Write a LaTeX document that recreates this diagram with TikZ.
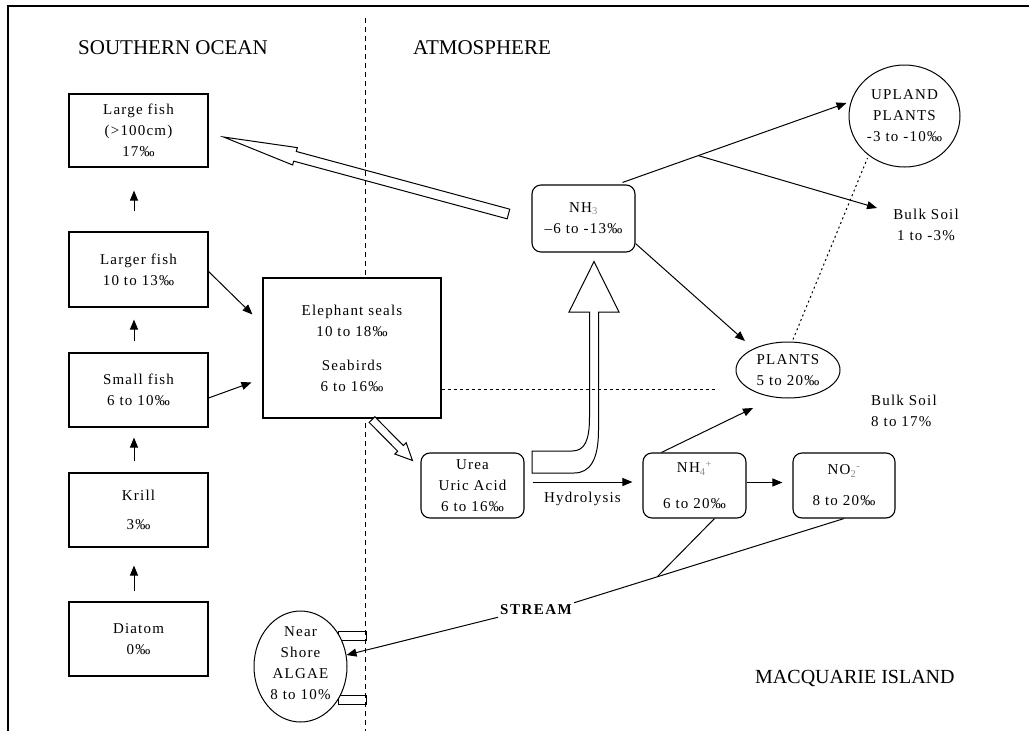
\documentclass[tikz,border=0pt]{standalone}
\usepackage{fontspec}
\setmainfont{Liberation Serif}
\newfontfamily\bodyf{Liberation Serif}[LetterSpace=8]
\usetikzlibrary{arrows.meta,calc,shapes.geometric}
\newcommand{\hollowarr}[6][]{%
  \coordinate (ha-a) at ($(#3)!#4!(#2)$);
  \draw[line width=1pt,#1] (#3) -- ($(ha-a)!#5!90:(#2)$) -- ($(ha-a)!#6!90:(#2)$)
    -- ($(#2)!#6!-90:(#3)$) -- ($(#2)!#6!90:(#3)$) -- ($(ha-a)!#6!-90:(#2)$)
    -- ($(ha-a)!#5!-90:(#2)$) -- cycle;}
\newcommand{\sub}[1]{\textsubscript{\textcolor{black!45}{#1}}}
\newcommand{\sups}[1]{\textsuperscript{\textcolor{black!45}{#1}}}
\begin{document}
\begin{tikzpicture}[x=1pt,y=-1pt,
  base/.style={font=\bodyf\fontsize{15}{21}\selectfont, align=center, inner sep=0pt},
  rbox/.style={base, draw, fill=white, line width=1.1pt},
  rrbox/.style={rbox, rounded corners=9pt},
  ell/.style={draw, ellipse, fill=white, line width=1pt, inner sep=0pt},
  arr/.style={line width=1pt, -{Triangle[length=10pt,width=8pt]}},
  ln/.style={line width=1pt},
  title/.style={font=\fontsize{21}{25}\selectfont, inner sep=0pt, anchor=base west}]
\useasboundingbox (0,0) rectangle (1029,731);
% frame
\draw[line width=1.3pt] (8,731) -- (8,6) -- (1029,6);
% divider
\draw[line width=1pt, dash pattern=on 5pt off 4pt] (365,18) -- (365,731);

% titles
\node[title] at (78,54) {SOUTHERN OCEAN};
\node[title] at (413,54) {ATMOSPHERE};
\node[title, font=\fontsize{20}{24}\selectfont] at (755,683) {MACQUARIE ISLAND};

% food chain boxes
\node[rbox, minimum width=139pt, minimum height=73pt] (lf) at (138.5,130.5) {Large fish\\(>100cm)\\17‰};
\node[rbox, minimum width=139pt, minimum height=75pt] (lgf) at (138.5,269.5) {Larger fish\\10 to 13‰};
\node[rbox, minimum width=139pt, minimum height=74pt] (sf) at (138.5,390) {Small fish\\6 to 10‰};
\node[rbox, minimum width=139pt, minimum height=74pt] (kr) at (138.5,510) {Krill\\[8pt]3‰};
\node[rbox, minimum width=139pt, minimum height=74pt] (di) at (138.5,639) {Diatom\\0‰};

\draw[arr] ($(lgf.north)+(-4.5,-20)$) -- ($(lf.south)+(-4.5,23)$);
\draw[arr] ($(sf.north)+(-4.5,-11)$) -- ($(lgf.south)+(-4.5,12)$);
\draw[arr] ($(kr.north)+(-4.5,-11)$) -- ($(sf.south)+(-4.5,10)$);
\draw[arr] ($(di.north)+(-4.5,-10)$) -- ($(kr.south)+(-4.5,18)$);

% seals
\node[rbox, minimum width=178pt, minimum height=140pt] (es) at (352,348)
  {Elephant seals\\10 to 18‰\\[13pt]Seabirds\\6 to 16‰};
\draw[arr] ($(lgf.east)+(0,2)$) -- ($(es.north west)+(-10,37)$);
\draw[arr] ($(sf.east)+(0,8)$) -- ($(es.north west)+(-11,105)$);

% atmosphere / island nodes
\node[rrbox, minimum width=103pt, minimum height=67pt] (nh3) at (583.5,218.5) {NH\sub{3}\\–6 to -13‰};
\node[rrbox, minimum width=103pt, minimum height=65pt] (urea) at (472.5,485.5) {Urea\\Uric Acid\\6 to 16‰};
\node[rrbox, minimum width=103pt, minimum height=65pt] (nh4) at (694.5,485.5) {NH\sub{4}\sups{+}\\[15pt]6 to 20‰};
\node[rrbox, minimum width=102pt, minimum height=65pt] (no2) at (844,485.5) {NO\sub{2}\sups{-}\\[10pt]8 to 20‰};

\node[ell, minimum width=104pt, minimum height=56pt] (plants) at (788,370) {};
\node[base] at (plants) {PLANTS\\5 to 20‰};
\node[ell, minimum width=111pt, minimum height=102pt] (upland) at (904.5,116) {};
\node[base] at (upland) {UPLAND\\PLANTS\\-3 to -10‰};

\node[base] (bs1) at (926,225) {Bulk Soil\\1 to -3\%};
\node[base, align=left, anchor=west] (bs2) at (871,411) {Bulk Soil\\8 to 17\%};

% big hollow arrow to large fish
\coordinate (hA) at ($(nh3.west)+(-23,-4.5)$);
\coordinate (hB) at ($(lf.east)+(15,6.5)$);
\hollowarr{hA}{hB}{74pt}{9pt}{5pt}

% hollow arrow seals -> urea
\coordinate (sA) at ($(es.south)+(20,1)$);
\coordinate (sB) at ($(urea.north west)+(-8,8)$);
\hollowarr[fill=white]{sA}{sB}{17pt}{8pt}{4pt}

% bent hollow arrow urea -> NH3
\draw[line width=1pt, fill=white] (532,451) -- (572,451) .. controls (585,451) and (589.5,440) .. (589.5,417)
  -- (589.5,312) -- (569,312) -- ($(nh3.south)+(10.5,9)$) -- (619,312) -- (598.5,312) -- (598.5,430)
  .. controls (598.5,460) and (590,473) .. (574,473) -- (532,473) -- cycle;

% dotted horizontal
\draw[line width=1pt, dash pattern=on 3pt off 3pt] (es.east |- 0,389) -- (717,389);

% hydrolysis
\draw[arr] ($(urea.east)+(8,-3.5)$) -- node[base, below=10pt] {Hydrolysis} ($(nh4.west)+(-10,-3.5)$);
\draw[arr] ($(nh4.east)+(0,-3)$) -- ($(no2.west)+(-10,-3)$);

% to plants
\draw[arr] ($(nh3.south east)+(0,-9)$) -- ($(plants.center)+(-43,-29)$);
\draw[arr] ($(nh4.north west)+(19,0)$) -- ($(plants.center)+(-35,38)$);
\draw[line width=1pt, dash pattern=on 2pt off 3pt] ($(plants.north)+(5,-2)$) -- ($(upland.center)+(-37,42)$);

% to upland and bulk soil
\coordinate (uA) at ($(nh3.north east)+(-13,-2)$);
\coordinate (uB) at ($(upland.center)+(-58,-13)$);
\draw[arr] (uA) -- (uB);
\coordinate (uJ) at ($(uA)!0.338!(uB)$);
\draw[arr] (uJ) -- ($(bs1.north west)+(-16,-1)$);

% stream
\node[font=\bfseries\fontsize{15}{18}\selectfont, inner sep=2pt] (stream) at (536,610) {\addfontfeature{LetterSpace=10}STREAM};
\draw[ln] (no2.south) -- (stream.north east);
\coordinate (sJ) at ($(no2.south)!0.692!(stream.north east)$);
\draw[ln] ($(nh4.south)+(20,0)$) -- (sJ);

% algae
\draw[line width=1pt] (338,631) rectangle (366,640);
\draw[line width=1pt] (338,695) rectangle (366,704);
\node[ell, minimum width=93pt, minimum height=111pt] (algae) at (300.5,666.5) {};
\node[base] at (300.5,663) {Near\\Shore\\ALGAE\\8 to 10\%};
\draw[arr] (stream.south west) -- (algae);
\end{tikzpicture}
\end{document}
